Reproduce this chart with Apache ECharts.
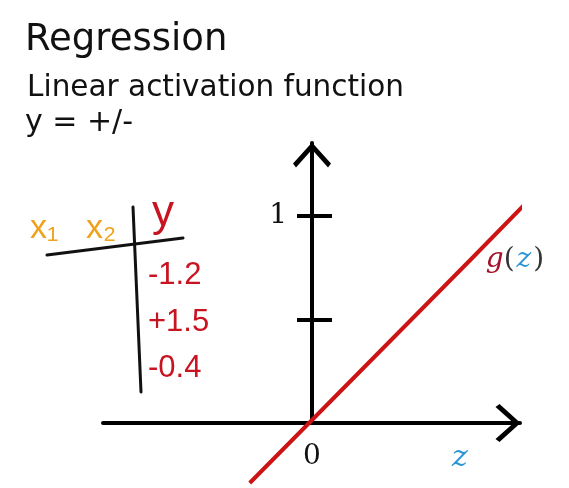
<!DOCTYPE html>
<html>
<head>
<meta charset="utf-8">
<script src="https://cdn.jsdelivr.net/npm/echarts@6/dist/echarts.min.js"></script>
<style>html,body{margin:0;padding:0;background:#fff}#c{width:569px;height:488px}</style>
</head>
<body>
<div id="c"></div>
<script>
// ---- data ----
const lineZ = [-0.31, 0.79, 1.06];      // z values along g(z) = z
const lineG = [-0.29, 0.79, 1.058];     // g(z) values
const yTicks = [0.5, 1];
const yLabels = [1];
const xLabels = [0];
const tableHeaders = ['x₁', 'x₂', 'y'];
const tableValues = ['-1.2', '+1.5', '-0.4'];

const chart = echarts.init(document.getElementById('c'), null, {renderer: 'canvas'});
const chevron = 'path://M19,0 L38,21 L35,25 L19,7 L3,25 L0,21 Z';
const axisCol = '#000';
const serif = '"DejaVu Serif", "Liberation Serif", serif';
const hand = '"Liberation Sans", "DejaVu Sans", sans-serif';
const sans = '"DejaVu Sans", sans-serif';

const X_MIN = -1.04, X_MAX = 1.035, GRID_LEFT = 103, GRID_RIGHT = 49;
const gridW = 569 - GRID_LEFT - GRID_RIGHT;
const yOffset = -gridW * (0 - X_MIN) / (X_MAX - X_MIN); // put the y axis at z = 0

const lineData = lineZ.map((z, i) => {
  const d = {value: [z, lineG[i]]};
  if (i === 1) {
    d.label = {
      show: true, position: 'right', distance: 15,
      formatter: '{g|g}{p|(}{z|z}{p|)}',
      rich: {
        g: {fontFamily: serif, fontStyle: 'italic', fontSize: 28, color: '#a3122b'},
        p: {fontFamily: serif, fontSize: 28, color: '#333'},
        z: {fontFamily: serif, fontStyle: 'italic', fontSize: 28, color: '#2b95d6', padding: [0, 2, 0, 2]}
      }
    };
  }
  return d;
});

const tableGraphics = [
  {type: 'line', shape: {x1: 47, y1: 255, x2: 183, y2: 238}, style: {stroke: '#111', lineWidth: 3, lineCap: 'round'}},
  {type: 'line', shape: {x1: 133, y1: 207, x2: 141, y2: 392}, style: {stroke: '#111', lineWidth: 3, lineCap: 'round'}},
  {type: 'text', x: 30, y: 212, style: {text: tableHeaders[0], font: '34px ' + hand, fill: '#f0a21c'}},
  {type: 'text', x: 86, y: 212, style: {text: tableHeaders[1], font: '34px ' + hand, fill: '#f0a21c'}},
  {type: 'text', x: 152, y: 192, style: {text: tableHeaders[2], font: '44px ' + hand, fill: '#c81420'}}
].concat(tableValues.map((v, i) => ({
  type: 'text', x: 148, y: 260 + i * 46.5, style: {text: v, font: '31px ' + hand, fill: '#c81420'}
})));

const yBase = {
  type: 'value', min: 0, max: 1.353, position: 'left', offset: yOffset,
  splitLine: {show: false}
};

chart.setOption({
  animation: false,
  backgroundColor: '#fff',
  title: [
    {text: 'Regression', left: 20, top: 17, textStyle: {fontFamily: sans, fontSize: 37, fontWeight: 'normal', color: '#111'}},
    {text: 'Linear activation function', left: 22, top: 68, textStyle: {fontFamily: sans, fontSize: 29.5, fontWeight: 'normal', color: '#111'}},
    {text: 'y = +/-', left: 20, top: 103, textStyle: {fontFamily: sans, fontSize: 30, fontWeight: 'normal', color: '#111'}}
  ],
  grid: {left: GRID_LEFT, right: GRID_RIGHT, top: 143, bottom: 65},
  xAxis: {
    type: 'value', min: X_MIN, max: X_MAX,
    splitLine: {show: false},
    axisLine: {onZero: false, lineStyle: {color: axisCol, width: 4}, symbol: ['none', chevron], symbolSize: [38, 25], symbolOffset: [0, -12]},
    axisTick: {show: false},
    axisLabel: {customValues: xLabels, fontFamily: serif, fontSize: 28, color: '#111', margin: 20},
    name: 'z', nameLocation: 'end', nameGap: -68,
    nameTextStyle: {fontFamily: serif, fontStyle: 'italic', fontSize: 30, color: '#2b95d6', verticalAlign: 'top', padding: [20, 0, 0, 0]}
  },
  yAxis: [
    Object.assign({}, yBase, {
      axisLine: {onZero: false, lineStyle: {color: axisCol, width: 4}, symbol: ['none', chevron], symbolSize: [38, 25], symbolOffset: [0, -12]},
      axisTick: {show: true, customValues: yTicks, length: 15, lineStyle: {color: axisCol, width: 4}},
      axisLabel: {customValues: yLabels, fontFamily: serif, fontSize: 28, color: '#111', margin: 25}
    }),
    Object.assign({}, yBase, {
      axisLine: {show: false, onZero: false},
      axisTick: {show: true, inside: true, customValues: yTicks, length: 20, lineStyle: {color: axisCol, width: 4}},
      axisLabel: {show: false}
    })
  ],
  series: [{
    type: 'line', data: lineData, clip: false, showSymbol: true, symbol: 'circle', symbolSize: 0.01,
    itemStyle: {color: '#cc1414'},
    lineStyle: {color: '#cc1414', width: 4}, z: 5
  }],
  graphic: tableGraphics
});
</script>
</body>
</html>
